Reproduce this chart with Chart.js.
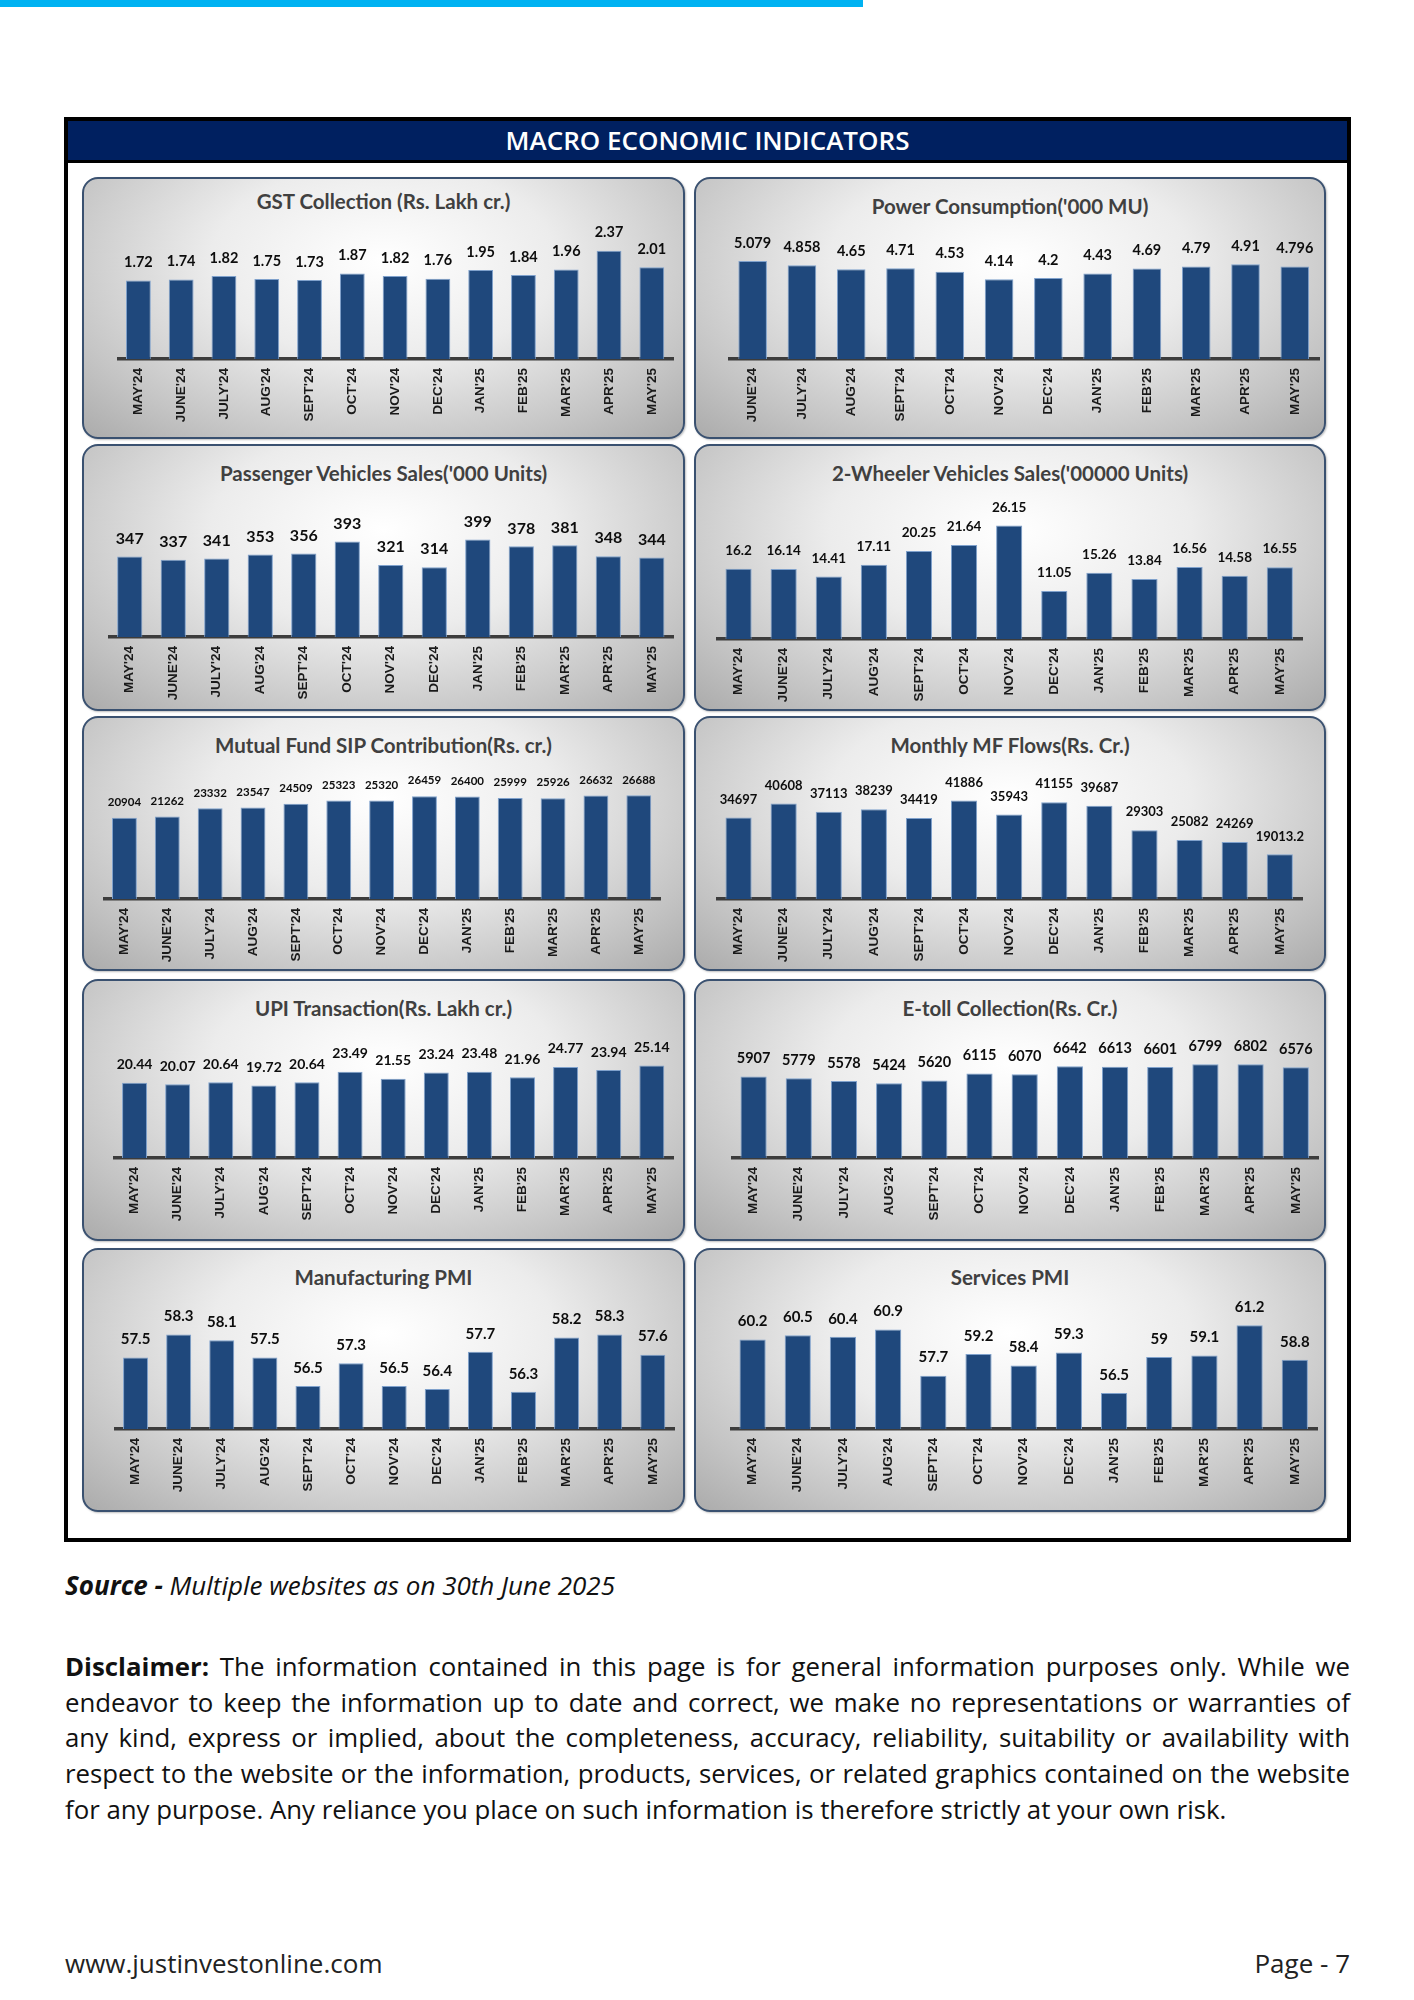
<!DOCTYPE html>
<html>
<head>
<meta charset="utf-8">
<script src="https://cdn.jsdelivr.net/npm/chart.js@4.4.1/dist/chart.umd.min.js"></script>
<style>
  html, body { margin: 0; padding: 0; background: #fff; }
  body { width: 1414px; height: 2000px; position: relative; overflow: hidden; font-family: "Open Sans", sans-serif; }
  .topbar { position: absolute; left: 0; top: 0; width: 863px; height: 7px; background: #00b2f2; }
  .box { position: absolute; left: 64px; top: 117px; width: 1287px; height: 1425px; border: 4px solid #000; box-sizing: border-box; }
  .header { position: absolute; left: 0; top: 0; right: 0; height: 39px; background: #002060; border-bottom: 3px solid #000;
            color: #fff; font-weight: 600; font-size: 26px; text-align: center; line-height: 39px; }
  .panel { position: absolute; box-sizing: border-box; border: 2px solid #3a5170; border-radius: 16px;
           background: radial-gradient(ellipse 72% 95% at 50% 32%, #ffffff 0%, #ececec 40%, #c4c4c4 78%, #ababab 100%);
           box-shadow: 1px 1px 2px rgba(0,0,0,0.25); }
  .ptitle { position: absolute; left: 0; right: 0; text-align: center; font-family: Lato, sans-serif; font-weight: 700;
            font-size: 20.5px; color: #404040; line-height: 24px; }
  canvas { position: absolute; }
  .source { position: absolute; left: 65px; top: 1567px; font-size: 26px; font-style: italic; color: #111; white-space: nowrap; }
  .disc { position: absolute; left: 65px; top: 1649px; width: 1285px; font-size: 25.8px; color: #111; line-height: 35.7px; }
  .disc div { text-align: justify; text-align-last: justify; white-space: nowrap; }
  .disc div.last { text-align-last: left; }
  .foot { position: absolute; top: 1945px; font-size: 26px; color: #222; }
</style>
</head>
<body>
<div class="topbar"></div>
<div class="box"><div class="header">MACRO ECONOMIC INDICATORS</div></div>
<div id="charts"></div>
<div class="source"><b>Source -</b> Multiple websites as on 30th June 2025</div>
<div class="disc">
  <div><b>Disclaimer:</b> The information contained in this page is for general information purposes only. While we</div>
  <div>endeavor to keep the information up to date and correct, we make no representations or warranties of</div>
  <div>any kind, express or implied, about the completeness, accuracy, reliability, suitability or availability with</div>
  <div>respect to the website or the information, products, services, or related graphics contained on the website</div>
  <div class="last">for any purpose. Any reliance you place on such information is therefore strictly at your own risk.</div>
</div>
<div class="foot" style="left:65px;">www.justinvestonline.com</div>
<div class="foot" style="right:64px;">Page - 7</div>

<script>
// month labels
const MONTHS = ["MAY'24", "JUNE'24", "JULY'24", "AUG'24", "SEPT'24", "OCT'24", "NOV'24", "DEC'24", "JAN'25", "FEB'25", "MAR'25", "APR'25", "MAY'25"];
const MONTHS_POWER = ["JUNE'24", "JULY'24", "AUG'24", "SEPT'24", "OCT'24", "NOV'24", "DEC'24", "JAN'25", "FEB'25", "MAR'25", "APR'25", "MAY'25"];

// series values
const GST = [1.72, 1.74, 1.82, 1.75, 1.73, 1.87, 1.82, 1.76, 1.95, 1.84, 1.96, 2.37, 2.01];
const POWER = [5.079, 4.858, 4.65, 4.71, 4.53, 4.14, 4.2, 4.43, 4.69, 4.79, 4.91, 4.796];
const PV_SALES = [347, 337, 341, 353, 356, 393, 321, 314, 399, 378, 381, 348, 344];
const TWO_WHEELER = [16.2, 16.14, 14.41, 17.11, 20.25, 21.64, 26.15, 11.05, 15.26, 13.84, 16.56, 14.58, 16.55];
const SIP = [20904, 21262, 23332, 23547, 24509, 25323, 25320, 26459, 26400, 25999, 25926, 26632, 26688];
const MF_FLOWS = [34697, 40608, 37113, 38239, 34419, 41886, 35943, 41155, 39687, 29303, 25082, 24269, 19013.2];
const UPI = [20.44, 20.07, 20.64, 19.72, 20.64, 23.49, 21.55, 23.24, 23.48, 21.96, 24.77, 23.94, 25.14];
const ETOLL = [5907, 5779, 5578, 5424, 5620, 6115, 6070, 6642, 6613, 6601, 6799, 6802, 6576];
const MFG_PMI = [57.5, 58.3, 58.1, 57.5, 56.5, 57.3, 56.5, 56.4, 57.7, 56.3, 58.2, 58.3, 57.6];
const SERV_PMI = [60.2, 60.5, 60.4, 60.9, 57.7, 59.2, 58.4, 59.3, 56.5, 59, 59.1, 61.2, 58.8];

const TITLES = ["GST Collection (Rs. Lakh cr.)", "Power Consumption('000 MU)", "Passenger Vehicles Sales('000 Units)",
  "2-Wheeler Vehicles Sales('00000 Units)", "Mutual Fund SIP Contribution(Rs. cr.)", "Monthly MF Flows(Rs. Cr.)",
  "UPI Transaction(Rs. Lakh cr.)", "E-toll Collection(Rs. Cr.)", "Manufacturing PMI", "Services PMI"];

// panel rows (top, bottom) and columns (left, right)
const ROWS = [[177, 439], [444, 711], [716, 971], [979, 1241], [1248, 1512]];
const COLS = [[82, 685], [694, 1326]];

// layout of each chart: plot x range, plot top / axis y, y range, value label size
const charts = [
  { labels: MONTHS, data: GST, x0: 117, x1: 677, top: 222, axis: 359, min: 0, max: 3, fs: 14.5, tt: 10 },
  { labels: MONTHS_POWER, data: POWER, x0: 728, x1: 1320, top: 224, axis: 359, min: 0, max: 7, fs: 14.5 },
  { labels: MONTHS, data: PV_SALES, x0: 108, x1: 677, top: 487, axis: 637, min: 100, max: 560, fs: 16 },
  { labels: MONTHS, data: TWO_WHEELER, x0: 716, x1: 1305, top: 487, axis: 639, min: 0, max: 35, fs: 13.5 },
  { labels: MONTHS, data: SIP, x0: 103, x1: 664, top: 763, axis: 899, min: 0, max: 35000, fs: 11.5, off: 15.5 },
  { labels: MONTHS, data: MF_FLOWS, x0: 716, x1: 1305, top: 758, axis: 899, min: 0, max: 60000, fs: 13 },
  { labels: MONTHS, data: UPI, x0: 113, x1: 677, top: 1022, axis: 1158, min: 0, max: 37, fs: 14 },
  { labels: MONTHS, data: ETOLL, x0: 731, x1: 1321, top: 1020, axis: 1158, min: 0, max: 10000, fs: 14.5 },
  { labels: MONTHS, data: MFG_PMI, x0: 114, x1: 678, top: 1286, axis: 1429, min: 55, max: 60, fs: 15 },
  { labels: MONTHS, data: SERV_PMI, x0: 730, x1: 1320, top: 1292, axis: 1429, min: 54, max: 63.5, fs: 15 }
];

const LABEL_AREA = 72;

// value labels above bars
const barValues = {
  id: 'barValues',
  afterDatasetsDraw(chart, args, opts) {
    const ctx = chart.ctx;
    const meta = chart.getDatasetMeta(0);
    const vals = chart.data.datasets[0].data;
    ctx.save();
    ctx.font = `700 ${opts.size}px Lato, sans-serif`;
    ctx.fillStyle = '#0d0d0d';
    ctx.textAlign = 'center';
    ctx.textBaseline = 'middle';
    meta.data.forEach((bar, i) => {
      ctx.fillText(String(vals[i]), bar.x, bar.y - opts.offset);
    });
    ctx.restore();
  }
};

const holder = document.getElementById('charts');

charts.forEach((c, i) => {
  const row = ROWS[Math.floor(i / 2)];
  const col = COLS[i % 2];

  const panel = document.createElement('div');
  panel.className = 'panel';
  panel.style.left = col[0] + 'px';
  panel.style.top = row[0] + 'px';
  panel.style.width = (col[1] - col[0]) + 'px';
  panel.style.height = (row[1] - row[0]) + 'px';
  const t = document.createElement('div');
  t.className = 'ptitle';
  t.style.top = (c.tt || 15) + 'px';
  t.textContent = TITLES[i];
  panel.appendChild(t);
  holder.appendChild(panel);

  const w = c.x1 - c.x0;
  const h = c.axis - c.top + LABEL_AREA;
  const cv = document.createElement('canvas');
  cv.width = w;
  cv.height = h;
  cv.style.left = c.x0 + 'px';
  cv.style.top = c.top + 'px';
  cv.style.width = w + 'px';
  cv.style.height = h + 'px';
  holder.appendChild(cv);

  new Chart(cv.getContext('2d'), {
    type: 'bar',
    data: {
      labels: c.labels,
      datasets: [{
        data: c.data,
        backgroundColor: '#1f487c',
        borderColor: '#7fa1cc',
        borderWidth: 1,
        barPercentage: 0.58,
        categoryPercentage: 1
      }]
    },
    options: {
      responsive: false,
      animation: false,
      layout: { padding: 0 },
      plugins: {
        legend: { display: false },
        tooltip: { enabled: false },
        barValues: { size: c.fs, offset: c.off || 18 }
      },
      scales: {
        x: {
          grid: { display: false, drawTicks: false },
          border: { display: true, color: '#3c3c3c', width: 3.5 },
          ticks: {
            minRotation: 90, maxRotation: 90, padding: 9,
            color: '#1a1a1a',
            font: { family: "'Liberation Sans', Arial, sans-serif", weight: 'bold', size: 13.5 }
          },
          afterFit: (s) => { s.height = LABEL_AREA; }
        },
        y: { display: false, min: c.min, max: c.max }
      }
    },
    plugins: [barValues]
  });
});
</script>
</body>
</html>
